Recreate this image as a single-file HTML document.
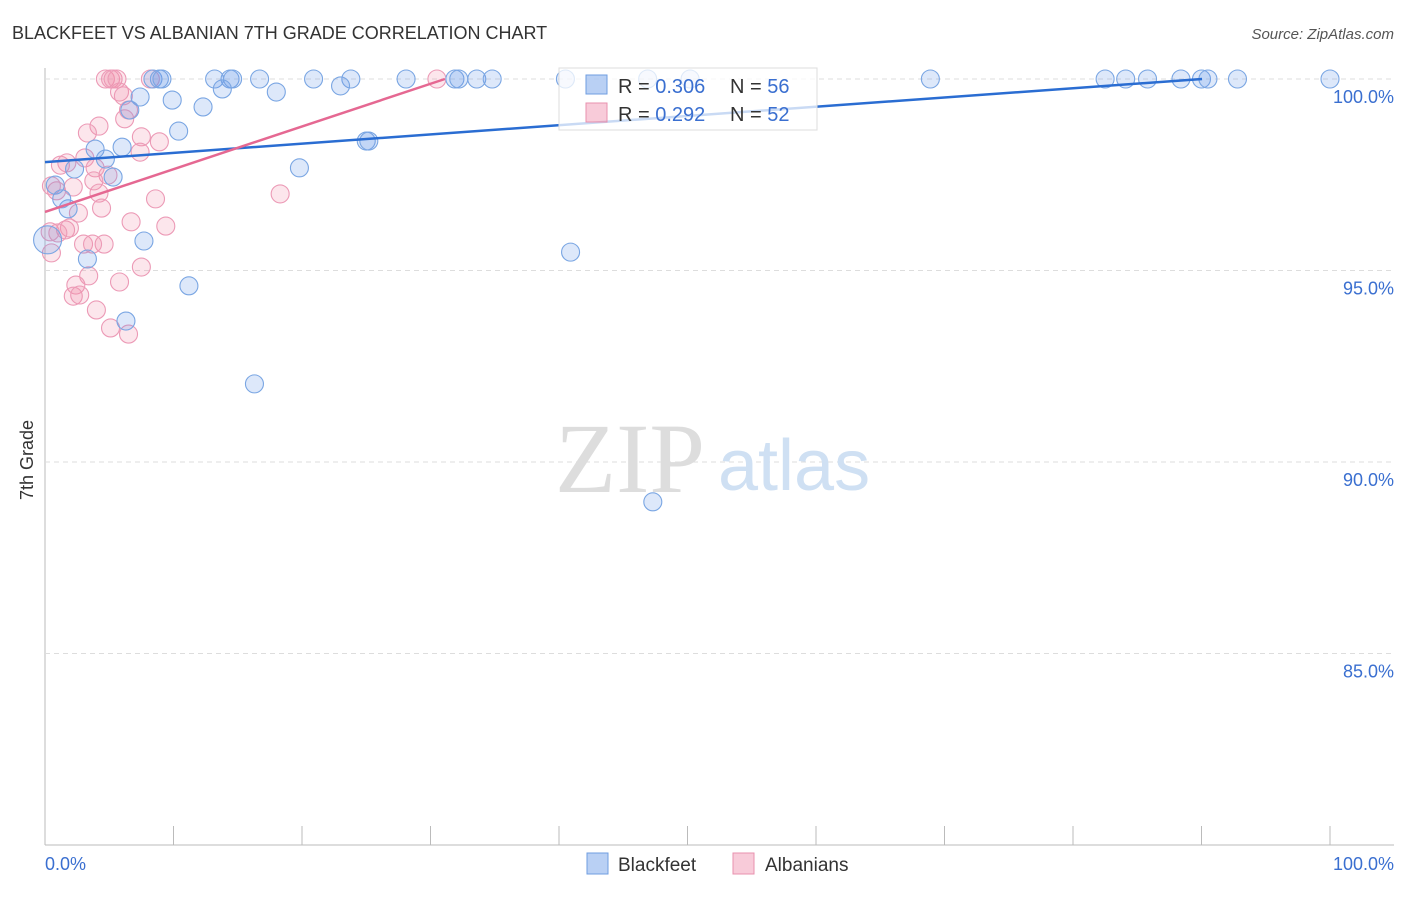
<!DOCTYPE html>
<html><head><meta charset="utf-8"><style>
body{margin:0;background:#fff;font-family:"Liberation Sans",sans-serif;}
</style></head><body>
<svg id="chart" width="1406" height="892" xmlns="http://www.w3.org/2000/svg">
<text x="12" y="39" font-size="18" fill="#333">BLACKFEET VS ALBANIAN 7TH GRADE CORRELATION CHART</text>
<text x="1394" y="39" font-size="15" fill="#555" text-anchor="end" font-style="italic">Source: ZipAtlas.com</text>
<text x="0" y="0" transform="translate(33,460) rotate(-90)" font-size="18" fill="#333" text-anchor="middle">7th Grade</text>
<g id="grid"></g>
<text x="555" y="492" font-size="100" fill="#ddd" font-family="Liberation Serif,serif">ZIP</text>
<text x="718" y="490" font-size="72" fill="#cfe0f3">atlas</text>
<g id="points"></g>
<g id="lines"></g>
<g>
<rect x="559" y="68" width="258" height="62" fill="rgba(255,255,255,0.75)" stroke="#ddd"/>
<rect x="586" y="75" width="21" height="19" fill="rgba(100,150,230,0.45)" stroke="#6f9ee0"/>
<rect x="586" y="103" width="21" height="19" fill="rgba(240,140,170,0.45)" stroke="#e890ae"/>
<text x="618" y="93" font-size="20" fill="#333">R = <tspan fill="#3a6fd0">0.306</tspan></text>
<text x="730" y="93" font-size="20" fill="#333">N = <tspan fill="#3a6fd0">56</tspan></text>
<text x="618" y="121" font-size="20" fill="#333">R = <tspan fill="#3a6fd0"> 0.292</tspan></text>
<text x="730" y="121" font-size="20" fill="#333">N = <tspan fill="#3a6fd0">52</tspan></text>
</g>
<g>
<rect x="587" y="853" width="21" height="21" fill="rgba(100,150,230,0.45)" stroke="#6f9ee0"/>
<text x="618" y="871" font-size="19" fill="#333">Blackfeet</text>
<rect x="733" y="853" width="21" height="21" fill="rgba(240,140,170,0.45)" stroke="#e890ae"/>
<text x="765" y="871" font-size="19" fill="#333">Albanians</text>
</g>
<text x="45" y="870" font-size="18" fill="#3a6fd0">0.0%</text>
<text x="1394" y="870" font-size="18" fill="#3a6fd0" text-anchor="end">100.0%</text>
</svg>
<script>
const yTicks=[100,95,90,85];
const xTicks=[0,10,20,30,40,50,60,70,80,90,100];
const blueX=[8.4,8.9,9.1,13.2,14.4,14.6,16.7,20.9,23.8,28.1,31.9,32.2,33.6,34.8,40.5,46.9,50.2,68.9,82.5,84.1,85.8,88.4,90.0,90.5,92.8,100,7.4,9.9,13.8,18.0,23.0,12.3,6.6,10.4,25.0,25.2,3.9,6.0,4.7,2.3,5.3,19.8,0.8,1.8,1.3,3.3,7.7,11.2,6.3,16.3,40.9,47.3,0.2];
const blueY=[100,100,100,100,100,100,100,100,100,100,100,100,100,100,100,100,100,100,100,100,100,100,100,100,100,100,99.53,99.45,99.74,99.66,99.82,99.27,99.19,98.64,98.38,98.38,98.17,98.22,97.91,97.65,97.44,97.68,97.23,96.61,96.87,95.3,95.77,94.6,93.68,92.04,95.48,88.96,95.8];
const pinkX=[4.7,5.1,5.3,5.6,8.2,30.5,5.8,6.1,6.5,6.2,4.2,3.3,7.5,8.9,7.4,3.1,1.2,1.7,3.9,4.9,3.8,2.2,0.9,0.5,4.2,8.6,18.3,2.6,4.4,6.7,9.4,1.6,1.9,1.0,0.4,3.0,4.6,3.7,0.5,7.5,3.4,2.4,5.8,2.2,2.7,4.0,5.1,6.5];
const pinkY=[100,100,100,100,100,100,99.66,99.56,99.19,98.96,98.77,98.59,98.49,98.36,98.09,97.94,97.75,97.81,97.68,97.49,97.34,97.18,97.08,97.21,97.02,96.87,97.0,96.5,96.63,96.27,96.16,96.06,96.11,95.98,96.01,95.69,95.69,95.69,95.46,95.09,94.86,94.62,94.7,94.33,94.36,93.97,93.5,93.34];
const blueTrend=[97.83,0.0241];
const pinkTrend=[96.53,0.1115];
const NS='http://www.w3.org/2000/svg';
const sx=v=>45+12.85*v, sy=v=>79+(100-v)*38.3;
function mk(t,a,p){const e=document.createElementNS(NS,t);for(const k in a)e.setAttribute(k,a[k]);p.appendChild(e);return e;}
const grid=document.getElementById('grid');
const ax=mk('line',{x1:45,y1:68,x2:45,y2:845,stroke:'#bbb'},grid);


const bx=mk('line',{x1:45,y1:845,x2:1394,y2:845,stroke:'#bbb'},grid);


yTicks.forEach(v=>{
 const g=mk('line',{x1:45,y1:sy(v),x2:1394,y2:sy(v),stroke:'#ddd','stroke-dasharray':'5,4'},grid);
 
 
 const t=mk('text',{x:1394,y:sy(v)+24,'font-size':18,fill:'#3a6fd0','text-anchor':'end'},grid);
 t.textContent=v.toFixed(1)+'%';
 
 
});
xTicks.forEach(v=>{
 const l=mk('line',{x1:sx(v),y1:826,x2:sx(v),y2:845,stroke:'#bbb'},grid);
 
 
});
const pts=document.getElementById('points');
function draw(X,Y,fill,stroke,name){X.forEach((x,i)=>{
 const c=mk('circle',{cx:sx(x),cy:sy(Y[i]),r:(name==='blackfeet-point'&&x<0.5)?14:9,fill:fill,stroke:stroke,'stroke-width':1.1},pts);
 
 
});}
draw(pinkX,pinkY,'rgba(240,140,170,0.22)','#ec9ab6','albanians-point');
draw(blueX,blueY,'rgba(100,150,230,0.22)','#7aa6e3','blackfeet-point');
const lines=document.getElementById('lines');
function trend(t,color,name){const xe=Math.min(100,(100-t[0])/t[1]);
 const l=mk('line',{x1:sx(0),y1:sy(t[0]),x2:sx(xe),y2:sy(t[0]+t[1]*xe),stroke:color,'stroke-width':2.5},lines);
 
 
}
trend(blueTrend,'#2a6dd2','blackfeet-trend-line');
trend(pinkTrend,'#e56892','albanians-trend-line');
</script>
</body></html>
